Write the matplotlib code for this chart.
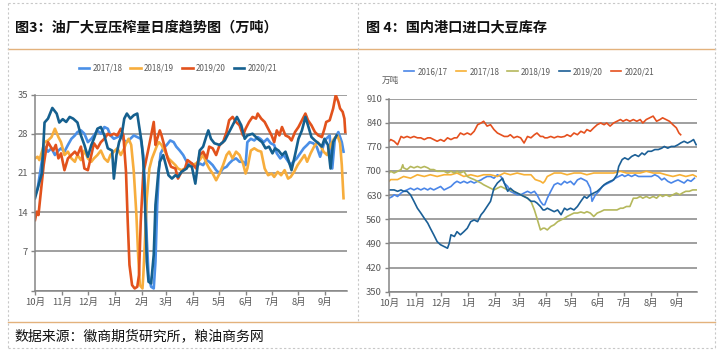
import matplotlib
matplotlib.use("Agg")
import matplotlib.pyplot as plt
from matplotlib.lines import Line2D

plt.rcParams['font.family'] = ['Noto Sans CJK SC', 'DejaVu Sans']

# ---------------- data: left chart (crush, 万吨), x = days since Oct 1 ----------------
month_days = [0, 31, 61, 92, 123, 151, 182, 212, 243, 273, 304, 335]
month_labels = ['10月', '11月', '12月', '1月', '2月', '3月', '4月', '5月', '6月', '7月', '8月', '9月']

L_1718_d = [0,3,6,9,11,15,19,23,27,30,34,38,42,46,49,53,57,61,65,68,72,76,80,84,87,91,95,99,103,106,110,114,118,122,125,127,129,131,134,137,139,141,143,145,148,152,156,160,163,167,171,175,
            177,181,186,190,194,198,201,205,209,213,217,221,224,228,232,236,240,243,245,249,253,257,260,264,268,272,276,279,283,287,291,295,298,302,306,310,314,317,321,325,329,333,336,340,343,346,350,354,356]
L_1718_v = [17.0,18.2,21.2,24.2,25.7,24.8,25.4,24.2,25.0,25.4,24.8,26.0,27.1,27.7,28.3,28.6,28.0,26.5,27.1,27.7,28.6,28.0,29.2,28.9,27.7,27.1,27.4,27.7,26.8,26.5,27.1,27.7,27.4,27.1,24.2,18.2,9.3,2.8,0.7,0.4,5.2,15.3,21.8,24.5,25.4,26.0,26.8,26.5,25.7,25.0,24.2,23.0,
            22.4,22.7,22.1,22.7,22.4,23.3,23.0,22.4,21.5,20.9,21.8,22.1,22.7,23.3,23.6,23.0,23.0,22.4,26.5,27.1,26.8,27.4,27.1,26.5,27.1,26.3,26.0,24.5,23.6,24.2,23.3,22.4,23.0,23.6,24.5,25.4,26.0,26.5,26.3,25.7,23.9,26.0,27.1,27.7,21.8,27.1,28.3,26.5,24.8]

L_1819_d = [0,3,5,8,11,15,19,23,27,30,34,38,42,46,49,53,57,61,65,68,72,76,80,84,87,91,95,99,103,105,108,111,114,117,119,121,124,125,127,129,132,135,138,141,143,146,150,154,158,162,165,169,173,176,
            181,186,190,194,198,201,205,209,213,217,221,224,228,232,236,240,243,245,249,253,257,261,265,269,273,276,280,284,288,292,295,299,303,307,311,314,318,322,326,330,333,337,341,345,349,352,354,356]
L_1819_v = [23.6,23.9,23.3,24.8,26.5,26.8,27.4,28.9,27.4,26.5,24.2,24.8,23.6,23.0,24.2,23.3,25.0,23.6,23.0,23.6,24.2,25.0,23.6,23.0,24.2,24.8,25.4,24.2,25.4,26.3,27.1,26.0,21.2,13.5,6.4,1.0,0.4,2.8,9.3,16.5,21.8,23.6,24.8,26.0,26.5,26.0,24.8,23.6,23.0,22.4,21.8,21.5,21.8,22.1,
            22.4,22.7,23.3,24.2,22.7,21.8,20.9,19.7,20.9,22.4,24.2,24.8,23.6,24.8,24.2,22.7,20.9,21.8,25.0,25.4,25.0,24.8,21.8,20.6,20.9,20.3,21.2,20.6,21.5,20.0,20.3,21.2,22.4,23.3,24.2,23.0,24.5,25.7,26.5,25.7,24.8,24.2,26.0,27.1,27.7,26.3,22.4,16.5]

L_1920_d = [0,2,4,6,10,13,15,18,21,24,27,30,34,38,42,46,49,53,57,61,65,68,72,76,80,84,87,91,95,99,102,105,107,109,112,115,118,120,122,125,127,131,134,137,139,141,144,146,149,153,157,162,165,169,173,176,
            181,186,190,194,198,201,205,209,213,217,221,224,228,232,236,240,243,247,251,255,257,261,265,269,273,276,279,282,285,289,293,296,300,304,308,312,315,319,323,327,331,334,336,340,344,347,350,352,355,357,358]
L_1920_v = [12.6,14.1,13.5,16.5,22.4,25.4,26.5,25.7,25.0,26.0,23.6,24.5,21.5,23.6,24.2,24.8,24.2,25.7,21.8,21.5,24.2,26.3,25.4,26.5,27.1,28.0,27.7,28.0,27.7,28.9,27.7,21.2,12.3,4.6,1.0,0.4,0.7,2.8,12.3,21.2,22.4,25.4,27.7,30.1,26.0,27.1,28.6,27.7,26.0,23.6,22.1,21.8,20.0,21.2,21.8,23.3,
            22.7,21.8,24.2,24.8,23.6,25.7,25.4,24.2,26.0,26.5,28.3,30.4,31.0,30.1,29.5,27.7,28.9,30.1,31.0,30.7,31.6,30.7,30.1,28.9,27.7,26.5,28.6,27.7,29.2,27.7,27.4,26.8,28.3,29.2,30.4,31.6,30.4,29.5,28.3,27.7,27.4,28.9,30.1,30.4,32.5,34.9,33.7,32.5,31.9,30.7,28.3]

L_2021_d = [0,8,11,15,20,25,28,32,36,40,44,49,53,57,61,65,68,72,76,80,84,89,91,94,97,100,103,106,110,114,118,120,123,125,127,129,131,134,137,139,142,144,148,151,154,158,162,165,169,175,
            177,181,185,190,194,198,200,203,207,213,219,222,228,233,238,242,245,251,257,262,266,270,274,277,281,285,289,293,296,300,304,308,312,315,319,323,327,331,334,338,341,344,348]
L_2021_v = [16.5,21.0,30.0,30.7,32.6,31.6,30.0,30.6,30.1,31.0,30.7,30.0,27.7,26.0,23.9,26.0,27.1,28.9,29.2,27.7,25.4,25.0,20.0,24.2,26.5,27.7,30.7,31.6,30.7,31.3,31.6,29.5,26.5,23.0,15.3,5.2,1.6,1.3,6.4,15.3,20.6,23.0,24.2,22.4,20.6,20.0,20.6,20.3,21.2,21.8,
            22.4,22.1,19.1,25.0,25.7,27.7,28.6,27.1,26.3,26.0,26.8,27.7,29.5,31.0,29.5,27.1,27.7,28.0,27.1,26.5,25.4,25.7,24.5,25.4,25.0,24.2,24.8,23.0,21.5,24.2,27.1,28.6,31.0,29.5,27.4,26.8,26.3,25.7,27.1,26.0,21.8,26.5,27.7]

# ---------------- data: right chart (port stocks, 万吨) ----------------
R_1617_d = [0,4,6,10,14,17,21,25,29,33,37,41,45,48,52,56,60,64,68,72,76,79,83,87,91,95,99,103,107,110,114,118,122,126,130,134,138,141,145,149,153,157,161,165,169,172,176,179,
            181,184,188,192,196,200,204,207,211,215,219,223,227,230,234,236,240,244,248,251,255,259,263,267,271,274,278,282,286,290,294,297,301,305,309,313,317,320,324,328,332,336,339,343,347,351,355]
R_1617_v = [621,626,631,626,636,641,645,650,645,650,645,650,645,650,645,650,655,645,650,655,665,670,665,670,665,670,665,670,674,679,684,684,679,689,684,665,655,641,636,631,631,636,641,636,641,631,612,602,
            602,621,641,660,665,660,670,665,670,660,674,679,674,670,650,612,631,641,655,660,665,670,679,684,689,684,689,684,689,684,684,684,684,684,689,684,674,679,670,665,670,674,670,665,674,670,679]

R_1718_d = [0,2,10,17,25,33,41,48,56,64,72,79,87,95,103,110,118,126,134,141,149,157,165,170,176,179,
            181,184,192,200,207,215,223,230,238,246,253,261,269,276,284,292,299,307,315,322,330,338,345,353,357]
R_1718_v = [670,675,675,684,679,689,684,689,684,689,689,694,684,689,684,689,689,684,694,689,694,689,689,675,670,665,
            670,684,694,694,689,694,694,689,694,694,694,694,699,694,694,694,699,694,694,689,684,689,684,689,684]

R_1819_d = [0,2,6,10,14,16,17,21,25,29,33,37,41,45,48,52,56,60,64,68,72,76,79,83,87,91,95,99,103,107,110,114,118,122,126,130,134,138,141,145,149,153,157,161,165,169,172,176,179,
            181,184,188,192,196,200,204,207,211,215,219,223,227,230,234,238,242,246,250,253,257,261,265,269,272,276,280,284,288,292,295,299,303,307,311,315,318,322,326,330,334,338,341,345,349,353,357]
R_1819_v = [694,699,694,699,704,718,709,704,713,709,713,709,713,709,704,704,699,699,699,694,699,694,699,694,699,684,679,675,670,665,660,655,650,645,650,655,650,645,645,641,636,631,626,621,612,587,563,529,534,
            534,529,539,544,553,558,563,568,573,578,578,581,578,582,578,568,578,582,587,587,587,587,587,592,592,597,597,621,621,626,621,626,621,626,621,631,626,631,626,631,636,631,636,641,641,645,645]

R_1920_d = [0,2,6,10,14,17,21,25,29,33,37,41,45,48,52,56,60,64,68,70,72,76,79,83,87,91,95,99,103,107,110,114,118,122,126,130,132,134,138,141,145,149,153,157,161,165,169,172,176,179,
            181,184,188,192,196,200,204,207,211,215,219,223,227,230,234,238,242,246,250,253,257,261,265,267,271,274,278,282,286,290,294,297,301,305,309,313,317,320,324,328,332,336,339,343,347,351,354,357]
R_1920_v = [645,645,645,641,645,641,641,631,612,592,578,563,549,534,515,495,486,481,476,490,515,510,524,515,524,534,553,558,553,573,582,597,612,650,665,674,679,665,641,650,641,636,631,626,621,612,612,607,597,587,
            587,592,587,582,587,573,592,587,592,587,597,612,626,621,631,636,641,650,660,665,670,674,689,713,733,738,733,742,747,742,752,747,757,757,762,762,766,771,766,771,771,776,781,786,781,786,791,776]

R_2021_d = [0,2,6,10,14,17,21,25,29,33,37,41,45,48,52,56,60,64,68,72,76,79,83,87,91,95,99,103,107,110,114,118,122,126,130,134,138,141,145,149,153,157,161,165,169,172,176,179,
            181,184,188,192,196,200,204,207,211,215,219,223,227,230,234,238,242,246,250,253,257,261,265,269,272,276,280,284,288,292,295,299,303,307,311,315,318,322,326,330,334,337,339]
R_2021_v = [786,791,786,776,800,796,800,796,800,796,796,791,796,796,791,786,791,786,796,791,796,796,810,805,810,805,815,834,839,844,830,834,820,810,805,800,800,805,796,800,796,781,800,796,805,810,800,800,
            796,796,800,796,800,798,800,805,800,810,805,815,810,820,815,825,834,839,834,839,830,839,844,849,844,849,844,849,844,849,839,849,854,859,844,849,854,849,844,834,825,810,805]

left_series = [('2017/18', L_1718_d, L_1718_v, '#4a8fe7'),
               ('2018/19', L_1819_d, L_1819_v, '#f7ad3c'),
               ('2019/20', L_1920_d, L_1920_v, '#e2521c'),
               ('2020/21', L_2021_d, L_2021_v, '#15608f')]
right_series = [('2016/17', R_1617_d, R_1617_v, '#4a86e8'),
                ('2017/18', R_1718_d, R_1718_v, '#f7b035'),
                ('2018/19', R_1819_d, R_1819_v, '#b5b85c'),
                ('2019/20', R_1920_d, R_1920_v, '#1b5f96'),
                ('2020/21', R_2021_d, R_2021_v, '#e5501e')]

W, H = 720, 350
fig = plt.figure(figsize=(7.2, 3.5), dpi=100)
fig.patch.set_facecolor('white')

def fx(px):
    return px / W

def fy(py):
    return 1 - py / H

tick_color = '#595959'
grid_color = '#858585'

def style_axes(ax, yticks, ylim, xlim, show_ylabels):
    ax.set_xlim(*xlim)
    ax.set_ylim(*ylim)
    ax.set_yticks(yticks)
    ax.set_yticklabels(show_ylabels)
    ax.set_xticks(month_days)
    ax.set_xticklabels(month_labels)
    ax.yaxis.grid(True, color=grid_color, linewidth=1.1)
    ax.xaxis.grid(False)
    ax.set_axisbelow(True)
    for s in ['top', 'right']:
        ax.spines[s].set_visible(False)
    for s in ['left', 'bottom']:
        ax.spines[s].set_color('#858585')
        ax.spines[s].set_linewidth(1.1)
    ax.tick_params(axis='both', colors='#858585', labelcolor=tick_color, labelsize=6.8,
                   length=3, width=1, pad=2)
    ax.set_facecolor('white')

# ---- left chart ----
axL = fig.add_axes([fx(35), fy(290.7), fx(312), 196.2 / H])
for name, d, v, c in left_series:
    axL.plot(d, v, color=c, lw=1.9, label=name, solid_joinstyle='round')
style_axes(axL, [0, 7, 14, 21, 28, 35], (0, 35), (0, 360), ['', '7', '14', '21', '28', '35'])

# ---- right chart ----
axR = fig.add_axes([fx(389), fy(291.7), fx(308), 193.2 / H])
for name, d, v, c in right_series:
    axR.plot(d, v, color=c, lw=1.2, label=name)
rt = [350, 420, 490, 560, 630, 700, 770, 840, 910]
style_axes(axR, rt, (350, 910), (0, 358), [str(t) for t in rt])

# legends
hL, lL = axL.get_legend_handles_labels()
fig.legend(hL, lL, loc='center', bbox_to_anchor=(fx(178), fy(68)), ncol=4, frameon=False,
           fontsize=5.8, handlelength=1.3, handletextpad=0.4, columnspacing=1.0,
           labelcolor=tick_color)
hR, lR = axR.get_legend_handles_labels()
fig.legend(hR, lR, loc='center', bbox_to_anchor=(fx(529), fy(71.5)), ncol=5, frameon=False,
           fontsize=5.8, handlelength=1.3, handletextpad=0.4, columnspacing=1.0,
           labelcolor=tick_color)
fig.text(fx(382), fy(80), '万吨', fontsize=6.2, color=tick_color, va='center', ha='left')

# titles
fig.text(fx(15), fy(27), '图3：油厂大豆压榨量日度趋势图（万吨）', fontsize=10.2, fontweight='bold',
         color='#111111', va='center', ha='left')
fig.text(fx(366), fy(27), '图 4：国内港口进口大豆库存', fontsize=10.2, fontweight='bold',
         color='#111111', va='center', ha='left')
# source
fig.text(fx(14), fy(336), '数据来源：徽商期货研究所，粮油商务网', fontsize=10,
         color='#111111', va='center', ha='left')

# separator lines
orange = '#e3b27c'
fig.add_artist(Line2D([fx(8), fx(715)], [fy(49), fy(49)], color=orange, lw=1.0))
fig.add_artist(Line2D([fx(8), fx(715)], [fy(322), fy(322)], color=orange, lw=1.0))
# dashed frame
dash_c = '#c8c8c8'
for xs, ys in [([8, 8], [3, 348]), ([715, 715], [3, 348]), ([8, 715], [3, 3]), ([8, 715], [348, 348]),
               ([358, 358], [3, 322])]:
    fig.add_artist(Line2D([fx(p) for p in xs], [fy(p) for p in ys], color=dash_c, lw=0.8,
                          linestyle=(0, (2, 2))))

fig.savefig('out.png', dpi=100)
